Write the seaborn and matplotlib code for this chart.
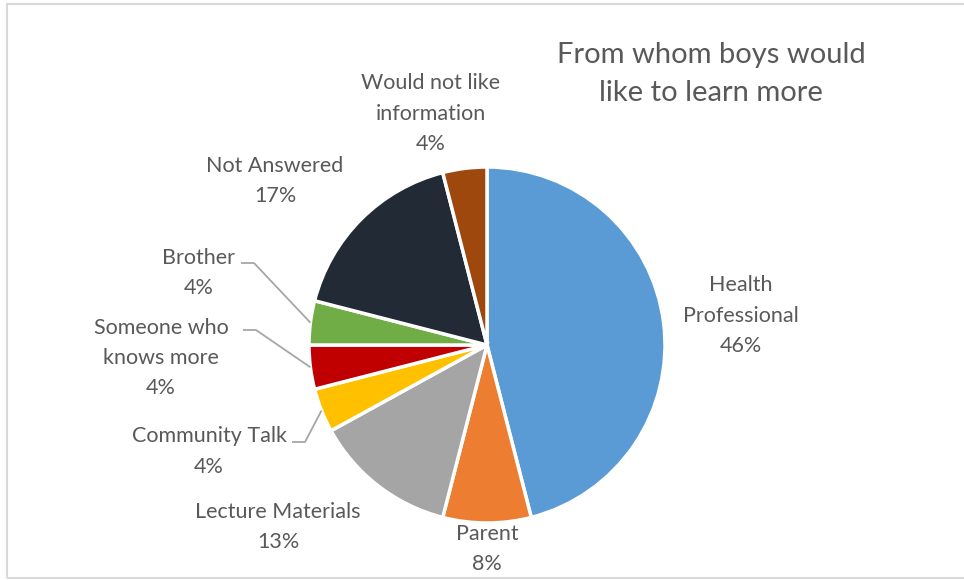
import numpy as np
import matplotlib
matplotlib.use("Agg")
import matplotlib.pyplot as plt
import seaborn as sns

# Survey answers, clockwise from 12 o'clock
sources = ["Health\nProfessional", "Parent", "Lecture Materials", "Community Talk",
           "Someone who\nknows more", "Brother", "Not Answered",
           "Would not like\ninformation"]
shares = [46, 8, 13, 4, 4, 4, 17, 4]
colors = ["#5B9BD5", "#ED7D31", "#A5A5A5", "#FFC000",
          "#C00000", "#70AD47", "#222A35", "#9E480E"]
title = "From whom boys would\nlike to learn more"

sns.set_theme(style="white")
plt.rcParams["font.family"] = ["Lato", "DejaVu Sans"]
palette = sns.color_palette(colors)

W, H = 964, 580
fig = plt.figure(figsize=(W / 100, H / 100), dpi=100)
ax = fig.add_axes([0, 0, 1, 1])

cx, cy, r = 487, H - 345, 178
wedges, _ = ax.pie(shares, colors=palette, startangle=90, counterclock=False,
                   center=(cx, cy), radius=r, frame=True,
                   wedgeprops=dict(edgecolor="white", linewidth=2.5))
ax.set_xlim(0, W)
ax.set_ylim(0, H)
ax.set_aspect("equal")
ax.axis("off")

# chart frame
ax.add_patch(plt.Rectangle((6.5, 2), W, H - 5.5, fill=False,
                           edgecolor="#D9D9D9", linewidth=1.5))

txt = "#595959"
fs = 15.5
# label centres (pixel coordinates from top-left)
label_pos = [(741, 315.5), (487, 549), (278, 527), (209, 451.5),
             (161, 358), (199, 273), (275, 181), (431, 113.5)]
for name, val, (lx, ly) in zip(sources, shares, label_pos):
    ax.text(lx, H - ly, f"{name}\n{val}%", ha="center", va="center",
            fontsize=fs, color=txt, linespacing=1.65)

# leader lines for the small slices on the left
leaders = {3: [(292, 442), (305, 442)],
           4: [(243, 330), (256, 330)],
           5: [(241, 263), (254, 263)]}
cum = np.cumsum([0] + shares)
total = cum[-1]
for i, pts in leaders.items():
    mid = (cum[i] + cum[i + 1]) / 2 / total
    ang = np.deg2rad(90 - 360 * mid)
    ex, ey = cx + r * np.cos(ang), cy + r * np.sin(ang)
    xs = [p[0] for p in pts] + [ex]
    ys = [H - p[1] for p in pts] + [ey]
    ax.plot(xs, ys, color="#A6A6A6", linewidth=1.3, solid_capstyle="butt")

ax.text(711, H - 74, title, ha="center", va="center", fontsize=21,
        color=txt, linespacing=1.6)

fig.savefig("out.png", dpi=100, facecolor="white")
